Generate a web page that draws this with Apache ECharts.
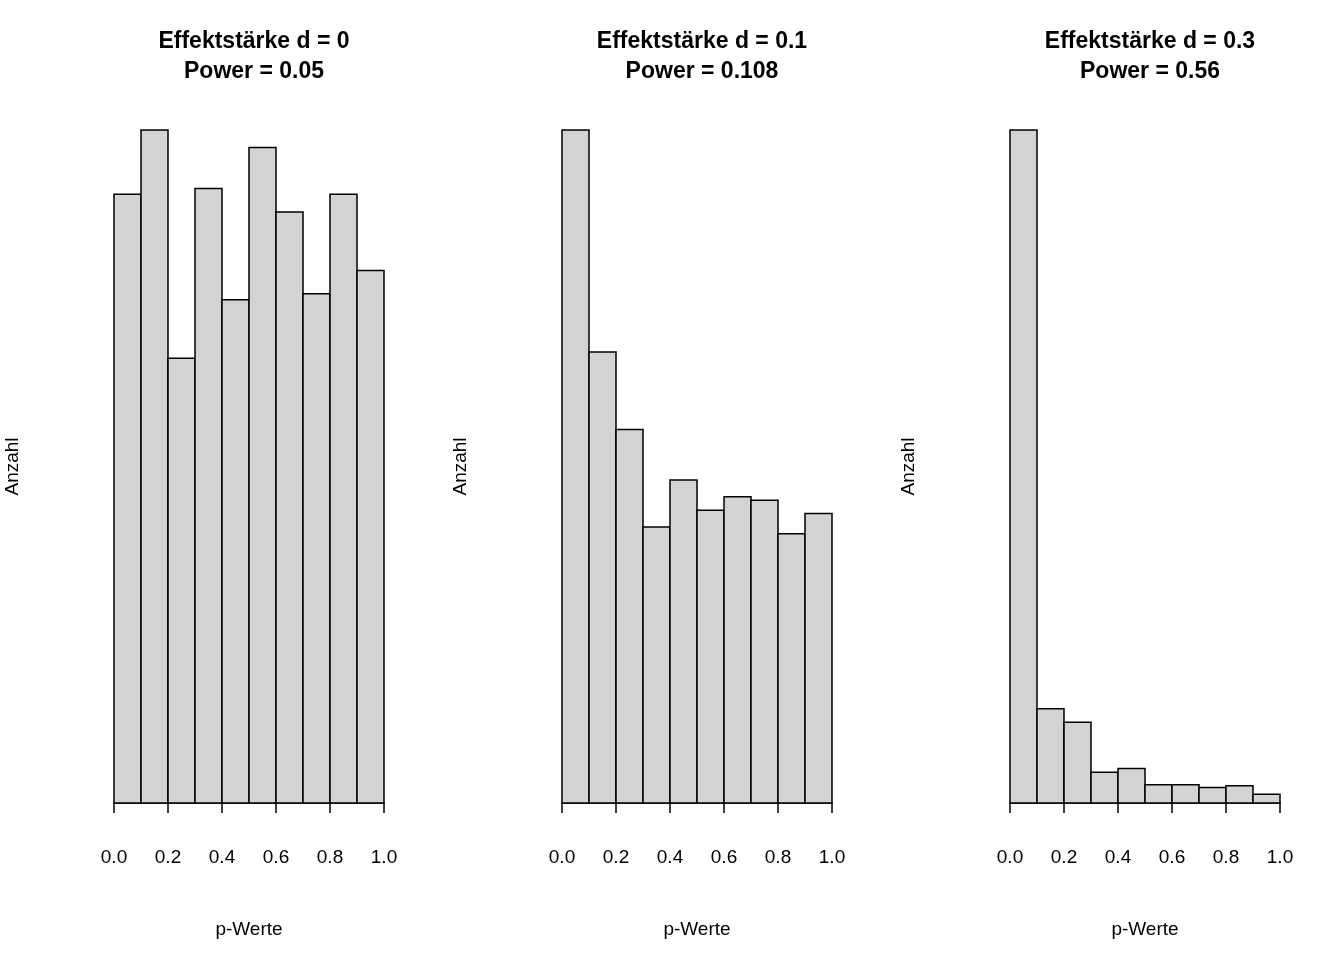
<!DOCTYPE html>
<html><head><meta charset="utf-8">
<script src="https://cdn.jsdelivr.net/npm/echarts@6/dist/echarts.min.js"></script>
<style>html,body{margin:0;background:#fff}#c{width:1344px;height:960px}</style>
</head><body><div id="c"></div>
<script>
const binStarts = [0, 0.1, 0.2, 0.3, 0.4, 0.5, 0.6, 0.7, 0.8, 0.9];
const titles = ['Effektstärke d = 0\nPower = 0.05', 'Effektstärke d = 0.1\nPower = 0.108', 'Effektstärke d = 0.3\nPower = 0.56'];
const counts0 = [104, 115, 76, 105, 86, 112, 101, 87, 104, 91];
const counts1 = [200, 134, 111, 82, 96, 87, 91, 90, 80, 86];
const counts2 = [700, 98, 84, 32, 36, 19, 19, 16, 18, 9];
const xTicks = [0, 0.2, 0.4, 0.6, 0.8, 1.0];
const allCounts = [counts0, counts1, counts2];
const lefts = [114, 562, 1010];
const font = 'Liberation Sans, Arial, sans-serif';

const chart = echarts.init(document.getElementById('c'));
const option = {
  backgroundColor: '#fff',
  animation: false,
  title: [], grid: [], xAxis: [], yAxis: [], series: []
};
allCounts.forEach((counts, i) => {
  option.title.push({
    text: titles[i], left: lefts[i] + 135, top: 22, textAlign: 'center',
    textStyle: {fontFamily: font, fontWeight: 'bold', fontSize: 23, color: '#000', lineHeight: 30}
  });
  option.grid.push({left: lefts[i], width: 270, top: 130, height: 673});
  option.xAxis.push({
    type: 'value', gridIndex: i, min: 0, max: 1, interval: 0.2, offset: 27,
    name: 'p-Werte', nameLocation: 'middle', nameGap: 90,
    nameTextStyle: {fontFamily: font, fontSize: 19, color: '#000'},
    axisLine: {show: true, lineStyle: {color: '#000', width: 1.5}},
    axisTick: {show: true, length: 10, lineStyle: {color: '#000', width: 1.5}},
    axisLabel: {fontFamily: font, fontSize: 19, color: '#000', margin: 18,
      formatter: v => v.toFixed(1)},
    splitLine: {show: false}
  });
  option.yAxis.push({
    type: 'value', gridIndex: i, min: 0, max: 'dataMax',
    name: 'Anzahl', nameLocation: 'middle', nameGap: 92,
    nameTextStyle: {fontFamily: font, fontSize: 19, color: '#000'},
    axisLine: {show: false}, axisTick: {show: false}, axisLabel: {show: false}, splitLine: {show: false}
  });
  option.series.push({
    type: 'custom', xAxisIndex: i, yAxisIndex: i,
    data: counts.map((c, k) => [binStarts[k], binStarts[k] + 0.1, c]),
    encode: {x: [0, 1], y: 2},
    renderItem: (params, api) => {
      const p0 = api.coord([api.value(0), 0]);
      const p1 = api.coord([api.value(1), api.value(2)]);
      return {type: 'rect', shape: {x: p0[0], y: p1[1], width: p1[0] - p0[0], height: p0[1] - p1[1]},
        style: {fill: '#d3d3d3', stroke: '#000', lineWidth: 1.5}};
    }
  });
});
chart.setOption(option);
</script></body></html>
